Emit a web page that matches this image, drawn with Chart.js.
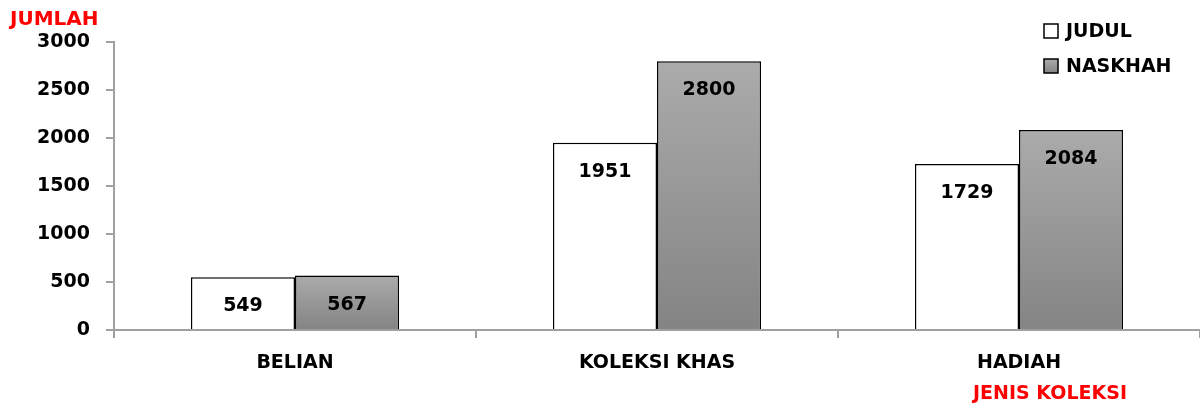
<!DOCTYPE html>
<html>
<head>
<meta charset="utf-8">
<script src="https://cdn.jsdelivr.net/npm/chart.js@4/dist/chart.umd.min.js"></script>
<style>
  html, body { margin: 0; padding: 0; background: #fff; }
  #wrap { width: 1200px; height: 408px; }
</style>
</head>
<body>
<div id="wrap"><canvas id="c" width="1200" height="408"></canvas></div>
<script>
// Chart values
const categories = ["BELIAN", "KOLEKSI KHAS", "HADIAH"];
const judul      = [549, 1951, 1729];
const naskhah    = [567, 2800, 2084];
const yTicks     = [0, 500, 1000, 1500, 2000, 2500, 3000];
const yTitle     = "JUMLAH";
const xTitle     = "JENIS KOLEKSI";

const FONT = "'DejaVu Sans', sans-serif";
const AXIS_GRAY = "#a0a0a0";

// Per-bar vertical gradient, like the Excel fill
const barGradient = {
  id: 'barGradient',
  beforeDatasetDraw(chart, args) {
    if (args.index !== 1) return;
    const ctx = chart.ctx;
    args.meta.data.forEach((bar) => {
      const g = ctx.createLinearGradient(0, bar.y, 0, bar.base);
      g.addColorStop(0, "#ababab");
      g.addColorStop(1, "#848484");
      // options are shared between bars, so give each its own copy
      bar.options = Object.assign({}, bar.options, { backgroundColor: g });
    });
  }
};

// Value labels inside each bar, a bit below the top
const valueLabels = {
  id: 'valueLabels',
  afterDatasetsDraw(chart) {
    const ctx = chart.ctx;
    ctx.save();
    ctx.font = "bold 19px " + FONT;
    ctx.fillStyle = "#000";
    ctx.textAlign = "center";
    ctx.textBaseline = "middle";
    chart.data.datasets.forEach((ds, i) => {
      chart.getDatasetMeta(i).data.forEach((bar, j) => {
        ctx.fillText(String(ds.data[j]), bar.x, bar.y + 29);
      });
    });
    ctx.restore();
  }
};

// Axis titles and the legend in the top-right corner
const extras = {
  id: 'extras',
  afterDraw(chart) {
    const ctx = chart.ctx;
    ctx.save();
    ctx.textBaseline = "middle";

    ctx.font = "bold 20px " + FONT;
    ctx.fillStyle = "#ff0000";
    ctx.textAlign = "left";
    ctx.fillText(yTitle, 10, 20);

    ctx.font = "bold 19px " + FONT;
    ctx.textAlign = "center";
    ctx.fillText(xTitle, 1050, 394);

    // legend
    ctx.textAlign = "left";
    ctx.font = "bold 19px " + FONT;
    chart.data.datasets.forEach((ds, i) => {
      const y = 31 + i * 35;
      const bx = 1044, bs = 14;
      if (i === 1) {
        const g = ctx.createLinearGradient(0, y - bs / 2, 0, y + bs / 2);
        g.addColorStop(0, "#ababab");
        g.addColorStop(1, "#848484");
        ctx.fillStyle = g;
      } else {
        ctx.fillStyle = "#fff";
      }
      ctx.fillRect(bx, y - bs / 2, bs, bs);
      ctx.strokeStyle = "#000";
      ctx.lineWidth = 1.5;
      ctx.strokeRect(bx, y - bs / 2, bs, bs);
      ctx.fillStyle = "#000";
      ctx.fillText(ds.label, 1066, y + 1);
    });
    ctx.restore();
  }
};

new Chart(document.getElementById("c"), {
  type: 'bar',
  data: {
    labels: categories,
    datasets: [
      { label: "JUDUL", data: judul, backgroundColor: "#fff",
        borderColor: "#000", borderWidth: 1.5 },
      { label: "NASKHAH", data: naskhah, backgroundColor: "#959595",
        borderColor: "#000", borderWidth: 1.5 }
    ]
  },
  options: {
    responsive: false,
    animation: false,
    layout: { padding: { top: 42, right: 0, bottom: 0, left: 0 } },
    datasets: { bar: { categoryPercentage: 0.575, barPercentage: 1 } },
    plugins: {
      legend: { display: false },
      tooltip: { enabled: false }
    },
    scales: {
      x: {
        offset: true,
        grid: { display: true, drawOnChartArea: false, offset: true,
                tickLength: 8, color: AXIS_GRAY, lineWidth: 2 },
        border: { color: AXIS_GRAY, width: 2 },
        ticks: { color: "#000", font: { family: FONT, size: 19, weight: 'bold' },
                 padding: 14 },
        afterFit(scale) { scale.height = 78; }
      },
      y: {
        min: 0, max: 3000,
        afterBuildTicks(scale) { scale.ticks = yTicks.map(v => ({ value: v })); },
        grid: { display: true, drawOnChartArea: false, tickLength: 8,
                color: AXIS_GRAY, lineWidth: 2 },
        border: { color: AXIS_GRAY, width: 2 },
        ticks: { color: "#000", font: { family: FONT, size: 19, weight: 'bold' },
                 padding: 16, callback: (v) => String(v) },
        afterFit(scale) { scale.width = 114; }
      }
    }
  },
  plugins: [barGradient, valueLabels, extras]
});
</script>
</body>
</html>
